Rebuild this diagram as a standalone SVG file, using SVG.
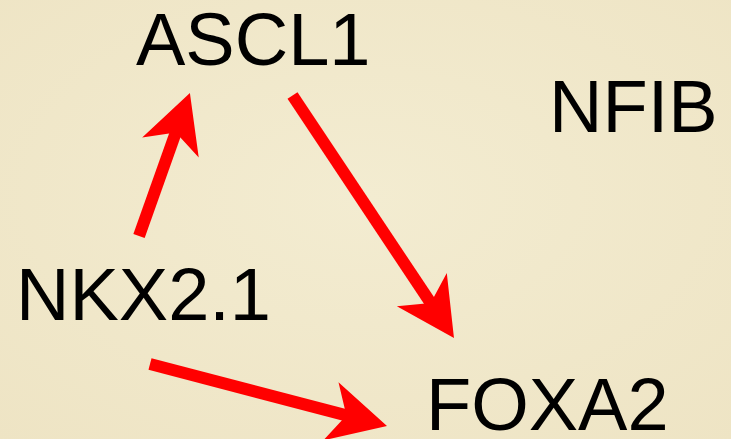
<svg xmlns="http://www.w3.org/2000/svg" width="731" height="439" viewBox="0 0 731 439">
  <defs>
    <radialGradient id="bg" cx="50%" cy="45%" r="75%">
      <stop offset="0" stop-color="#F3ECD1"/>
      <stop offset="1" stop-color="#EEE4C4"/>
    </radialGradient>
    <marker id="head" markerUnits="userSpaceOnUse" orient="auto" refX="0" refY="0" markerWidth="120" markerHeight="120" overflow="visible">
      <path d="M40,0 L-18,-30 L-2,0 L-18,30 Z" fill="#FF0000"/>
    </marker>
    <style>
      .lbl { font-family: "Liberation Sans", Arial, sans-serif; font-size: 74px; fill: #000000; }
      .edge { stroke: #FF0000; stroke-width: 12; fill: none; stroke-linecap: butt; marker-end: url(#head); }
    </style>
  </defs>
  <rect x="0" y="0" width="731" height="439" fill="url(#bg)"/>
  <g id="connectors">
    <line class="edge" x1="139" y1="236" x2="176.5" y2="130.6"/>
    <line class="edge" x1="292.5" y1="95.5" x2="431.8" y2="304.7"/>
    <line class="edge" x1="150" y1="364" x2="348.3" y2="415.9"/>
  </g>
  <g id="ASCL1"><text class="lbl" x="136" y="65">ASCL1</text></g>
  <g id="NFIB"><text class="lbl" x="549" y="132">NFIB</text></g>
  <g id="NKX2.1"><text class="lbl" x="16" y="320">NKX2.1</text></g>
  <g id="FOXA2"><text class="lbl" x="426" y="430">FOXA2</text></g>
</svg>
